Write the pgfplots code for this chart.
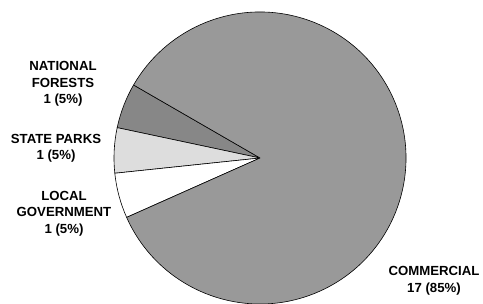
\documentclass[border=0pt]{standalone}
\usepackage{pgfplots}
\pgfplotsset{compat=1.18}
\usepackage{pgfplotstable}
\usepackage{fontspec}
\setmainfont{Liberation Sans}
\definecolor{slice0}{HTML}{878787}
\definecolor{slice1}{HTML}{DDDDDD}
\definecolor{slice2}{HTML}{FFFFFF}
\definecolor{slice3}{HTML}{999999}
\pgfplotstableread{
value
1
1
1
17
}\piedata
% compute angles from the data
\xdef\total{0}
\pgfplotstableforeachcolumnelement{value}\of\piedata\as\v{%
  \pgfmathsetmacro\tmp{\total+\v}\xdef\total{\tmp}}
\xdef\cur{150}
\pgfplotstableforeachcolumnelement{value}\of\piedata\as\v{%
  \pgfmathsetmacro\nxt{\cur+360*\v/\total}%
  \expandafter\xdef\csname sa\pgfplotstablerow\endcsname{\cur}%
  \expandafter\xdef\csname ea\pgfplotstablerow\endcsname{\nxt}%
  \xdef\cur{\nxt}}
\begin{document}
\begin{tikzpicture}
\begin{axis}[at={(0,0)},anchor=south west,x=1pt,y=1pt,xmin=0,xmax=483,ymin=0,ymax=304,hide axis,clip=true]
\pgfplotsinvokeforeach{0,1,2,3}{
  \filldraw[fill=slice#1,draw=black,line width=0.6pt,line join=round]
    (axis cs:260,146) -- ++(\csname sa#1\endcsname:146pt)
    arc[start angle=\csname sa#1\endcsname, end angle=\csname ea#1\endcsname, radius=146pt] -- cycle;
}
\tikzset{lbl/.style={align=center,font=\bfseries\fontsize{13.2}{16.5}\selectfont,inner sep=0pt}}
\node[lbl] at (axis cs:63,220) {NATIONAL\\FORESTS\\1 (5\%)};
\node[lbl] at (axis cs:56,155.5) {STATE PARKS\\1 (5\%)};
\node[lbl] at (axis cs:64,90.5) {LOCAL\\GOVERNMENT\\1 (5\%)};
\node[lbl] at (axis cs:434,23) {COMMERCIAL\\17 (85\%)};
\end{axis}
\pgfresetboundingbox
\path[use as bounding box] (0,0) rectangle (483pt,304pt);
\end{tikzpicture}
\end{document}
